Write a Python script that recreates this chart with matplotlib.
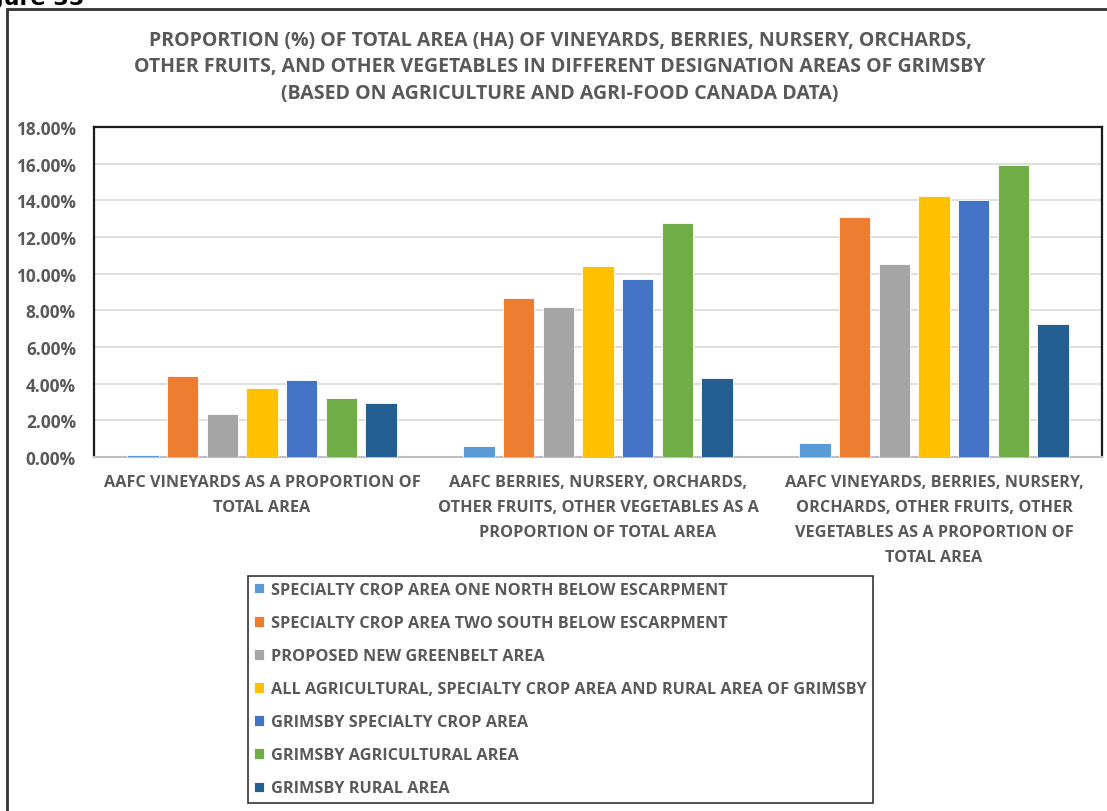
import numpy as np
import matplotlib.pyplot as plt
from matplotlib.patches import Rectangle
from matplotlib.ticker import PercentFormatter

categories = [
    "AAFC VINEYARDS AS A PROPORTION OF\nTOTAL AREA",
    "AAFC BERRIES, NURSERY, ORCHARDS,\nOTHER FRUITS, OTHER VEGETABLES AS A\nPROPORTION OF TOTAL AREA",
    "AAFC VINEYARDS, BERRIES, NURSERY,\nORCHARDS, OTHER FRUITS, OTHER\nVEGETABLES AS A PROPORTION OF\nTOTAL AREA",
]
series_names = [
    "SPECIALTY CROP AREA ONE NORTH BELOW ESCARPMENT",
    "SPECIALTY CROP AREA TWO SOUTH BELOW ESCARPMENT",
    "PROPOSED NEW GREENBELT AREA",
    "ALL AGRICULTURAL, SPECIALTY CROP AREA AND RURAL AREA OF GRIMSBY",
    "GRIMSBY SPECIALTY CROP AREA",
    "GRIMSBY AGRICULTURAL AREA",
    "GRIMSBY RURAL AREA",
]
# values in %, one list per series (vineyards, berries etc., combined)
scac_one_north = [0.12, 0.62, 0.78]
scac_two_south = [4.40, 8.65, 13.07]
greenbelt = [2.36, 8.16, 10.53]
all_agri_rural = [3.77, 10.44, 14.21]
grimsby_specialty = [4.22, 9.73, 14.01]
grimsby_agri = [3.19, 12.74, 15.95]
grimsby_rural = [2.94, 4.31, 7.25]

series_values = [scac_one_north, scac_two_south, greenbelt, all_agri_rural,
                 grimsby_specialty, grimsby_agri, grimsby_rural]
colors = ["#5B9BD5", "#ED7D31", "#A5A5A5", "#FFC000", "#4472C4", "#70AD47", "#255E91"]

txt = "#595959"
font = "Open Sans"

fig = plt.figure(figsize=(11.07, 8.12), dpi=100)
ax = fig.add_axes([0.0849, 0.436, 0.9106, 0.4064])

x = np.arange(len(categories))
slot = 0.118
width = 0.093
for i, (name, vals, c) in enumerate(zip(series_names, series_values, colors)):
    ax.bar(x + (i - 3) * slot, vals, width, color=c, label=name,
           edgecolor="white", linewidth=0.6, zorder=3)

ax.set_xlim(-0.5, 2.5)
ax.set_ylim(0, 18)
ax.set_yticks(np.arange(0, 18.1, 2))
ax.yaxis.set_major_formatter(PercentFormatter(decimals=2))
ax.grid(axis="y", color="#D9D9D9", linewidth=1.2, zorder=0)
ax.set_xticks(x)
ax.set_xticklabels(categories, fontsize=11.7, fontweight="bold", color=txt,
                   family=font, linespacing=1.76)
ax.tick_params(axis="both", length=0)
ax.tick_params(axis="x", pad=12)
ax.tick_params(axis="y", pad=13)
for lab in ax.get_yticklabels():
    lab.set_fontsize(12.4)
    lab.set_fontweight("bold")
    lab.set_color(txt)
    lab.set_family(font)

for s in ["top", "left", "right"]:
    ax.spines[s].set_color("#1a1a1a")
    ax.spines[s].set_linewidth(1.6)
ax.spines["bottom"].set_color("#BFBFBF")
ax.spines["bottom"].set_linewidth(1.5)

fig.text(0.506, 0.962,
         "PROPORTION (%) OF TOTAL AREA (HA) OF VINEYARDS, BERRIES, NURSERY, ORCHARDS,\n"
         "OTHER FRUITS, AND OTHER VEGETABLES IN DIFFERENT DESIGNATION AREAS OF GRIMSBY\n"
         "(BASED ON AGRICULTURE AND AGRI-FOOD CANADA DATA)",
         ha="center", va="top", fontsize=14, fontweight="bold", color=txt,
         family=font, linespacing=1.43)

leg = fig.legend(loc="upper left", bbox_to_anchor=(0.224, 0.290), ncol=1,
                 frameon=True, fancybox=False, handlelength=0.6, handleheight=0.6,
                 handletextpad=0.4, labelspacing=1.05, borderpad=0.4,
                 borderaxespad=0, prop={"family": font, "weight": "bold", "size": 11.7})
leg.get_frame().set_edgecolor("black")
leg.get_frame().set_linewidth(1.2)
for t in leg.get_texts():
    t.set_color(txt)

# outer chart border (runs off the right and bottom of the image)
fig.patches.append(Rectangle((0.0065, -0.05), 1.1, 1.0377, transform=fig.transFigure,
                             fill=False, edgecolor="#333333", linewidth=2, clip_on=False))

# figure caption, mostly cut off at the top
fig.text(-0.032, 1 - 5 / 812, "Figure 35", ha="left", va="baseline",
         fontsize=16, fontweight="bold", color="black")

fig.savefig("out.png", dpi=100)
